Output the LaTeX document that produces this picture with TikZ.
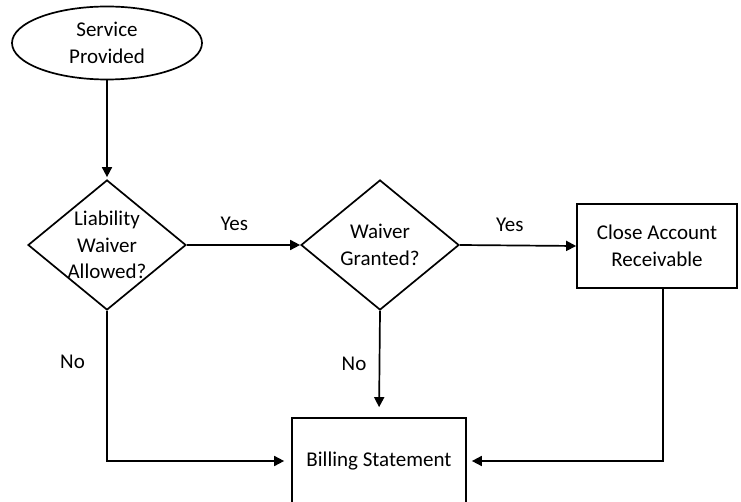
\documentclass[tikz,border=0pt]{standalone}
\usepackage{fontspec}
\setmainfont{Carlito}
\usetikzlibrary{shapes.geometric,arrows.meta}

\begin{document}
\begin{tikzpicture}[x=1pt, y=-1pt,
    every node/.style={font=\fontsize{21}{26.5}\selectfont},
    startnode/.style={ellipse, draw, line width=1.7pt, minimum width=190pt, minimum height=73pt, inner sep=0pt, align=center},
    decision/.style={diamond, draw, line width=1.7pt, minimum width=158pt, minimum height=130pt, inner sep=-30pt, align=center},
    process/.style={rectangle, draw, line width=1.7pt, align=center},
    flow/.style={line width=1.7pt, -{Triangle[length=10pt, width=10pt]}}]

  % Page
  \useasboundingbox (0, 0) rectangle (741, 502);

  % Nodes
  \node[startnode] (service) at (107, 43)  {Service\\Provided};
  \node[decision]  (liable)  at (107, 245) {Liability\\Waiver\\Allowed?};
  \node[decision]  (granted) at (380, 245) {Waiver\\Granted?};
  \node[process, minimum width=160pt, minimum height=84pt] (close) at (657, 246) {Close Account\\Receivable};
  \node[process, minimum width=174pt, minimum height=86pt] (billing) at (379, 461) {Billing Statement};

  % Connectors
  \draw[flow, shorten >=2pt] (service) -- (liable);
  \draw[flow] (liable.east) -- node[pos=0.42, above=10pt] {Yes} (granted.west);
  \draw[flow] (granted.east) -- node[pos=0.43, above=10pt] {Yes} (close.west);
  \draw[flow, shorten >=10pt] (granted.south) -- node[left=9pt] {No} (billing.north);
  \draw[flow, shorten >=7pt] (liable.south) |- node[pos=0.17, left=18pt] {No} (billing.west);
  \draw[flow, shorten >=5pt] ([xshift=6pt]close.south) |- (billing.east);

\end{tikzpicture}
\end{document}
